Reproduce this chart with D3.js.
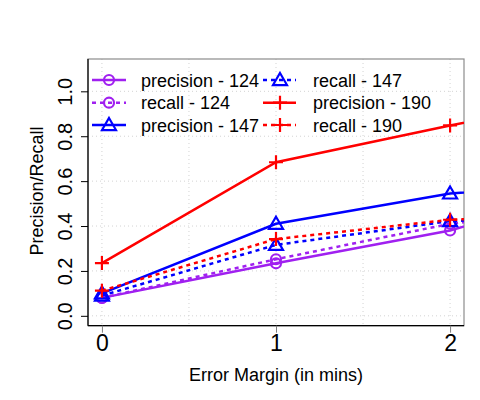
<!DOCTYPE html>
<html><head><meta charset="utf-8">
<script src="https://cdn.jsdelivr.net/npm/d3@7"></script>
<style>body{margin:0;background:#fff}svg{display:block}text{font-family:"Liberation Sans",Arial,sans-serif}</style>
</head><body>
<script>
const margins = [0, 1, 2, 3];
const prec124 = [0.08, 0.234, 0.38, 0.60];
const rec124  = [0.08, 0.252, 0.41, 0.50];
const prec147 = [0.10, 0.41, 0.545, 0.60];
const rec147  = [0.09, 0.316, 0.422, 0.45];
const prec190 = [0.235, 0.684, 0.848, 1.0];
const rec190  = [0.112, 0.342, 0.428, 0.46];
const xTicks = [0, 1, 2];
const yTicks = [0, 0.2, 0.4, 0.6, 0.8, 1.0];
const xGrid = [0, 0.5, 1, 1.5, 2];

const series = [
  {name:"precision - 124", vals:prec124, color:"#a020f0", dash:null, shape:"circle"},
  {name:"recall - 124", vals:rec124, color:"#a020f0", dash:"4,4", shape:"circle"},
  {name:"precision - 147", vals:prec147, color:"#0000ff", dash:null, shape:"triangle"},
  {name:"recall - 147", vals:rec147, color:"#0000ff", dash:"4,4", shape:"triangle"},
  {name:"precision - 190", vals:prec190, color:"#ff0000", dash:null, shape:"plus"},
  {name:"recall - 190", vals:rec190, color:"#ff0000", dash:"4,4", shape:"plus"}
];

const W = 480, H = 400;
const L = 88, R = 464, T = 59, B = 325.7;
const x = d3.scaleLinear().domain([-0.08, 2.08]).range([L, R]);
const y = d3.scaleLinear().domain([-0.044, 1.144]).range([B, T]);

const svg = d3.select("body").append("svg").attr("width", W).attr("height", H);
svg.append("rect").attr("width", W).attr("height", H).attr("fill", "#fff");
svg.append("clipPath").attr("id", "clip").append("rect")
  .attr("x", L).attr("y", T).attr("width", R - L).attr("height", B - T);

// grid
const g = svg.append("g");
g.selectAll(".vg").data(xGrid).join("line")
  .attr("x1", d => x(d)).attr("x2", d => x(d)).attr("y1", T).attr("y2", B)
  .attr("stroke", "#d3d3d3").attr("stroke-width", 1).attr("stroke-dasharray", "1,3");
g.selectAll(".hg").data(yTicks).join("line")
  .attr("y1", d => y(d)).attr("y2", d => y(d)).attr("x1", L).attr("x2", R)
  .attr("stroke", "#d3d3d3").attr("stroke-width", 1).attr("stroke-dasharray", "1,3");

// box
svg.append("rect").attr("x", L).attr("y", T).attr("width", R - L).attr("height", B - T)
  .attr("fill", "none").attr("stroke", "#8c8c8c").attr("stroke-width", 1.2);
svg.append("line").attr("x1", L).attr("x2", L).attr("y1", T).attr("y2", B).attr("stroke", "#000").attr("stroke-width", 1.2);
svg.append("line").attr("x1", L).attr("x2", R).attr("y1", B).attr("y2", B).attr("stroke", "#000").attr("stroke-width", 1.2);

// axes
const xAxis = d3.axisBottom(x).tickValues(xTicks).tickFormat(d3.format("d")).tickSize(7).tickPadding(2);
const xa = svg.append("g").attr("transform", `translate(0,${B})`).call(xAxis);
xa.select(".domain").remove();
xa.selectAll(".tick line").attr("stroke", "#808080");
xa.selectAll("text").attr("font-size", 23).attr("fill", "#000").attr("font-family", "Liberation Sans, Arial, sans-serif");

const yAxis = d3.axisLeft(y).tickValues(yTicks).tickFormat(d3.format(".1f")).tickSize(7);
const ya = svg.append("g").attr("transform", `translate(${L},0)`).call(yAxis);
ya.select(".domain").remove();
ya.selectAll(".tick line").attr("stroke", "#000");
ya.selectAll("text").remove();
ya.selectAll(".tick").append("text")
  .attr("transform", "translate(-16,0) rotate(-90)")
  .attr("text-anchor", "middle").attr("font-size", 20).attr("fill", "#000")
  .attr("font-family", "Liberation Sans, Arial, sans-serif")
  .text(d => d3.format(".1f")(d));

// titles
svg.append("text").attr("x", x(1)).attr("y", 381).attr("text-anchor", "middle")
  .attr("font-size", 18).text("Error Margin (in mins)");
svg.append("text").attr("transform", "translate(43,191) rotate(-90)").attr("text-anchor", "middle")
  .attr("font-size", 18).text("Precision/Recall");

// markers
function marker(sel, shape, color, cx, cy) {
  if (shape === "circle") {
    sel.append("circle").attr("cx", cx).attr("cy", cy).attr("r", 5)
      .attr("fill", "none").attr("stroke", color).attr("stroke-width", 2.2);
  } else if (shape === "triangle") {
    const s = 7;
    sel.append("path").attr("d", `M${cx},${cy - s}L${cx + s},${cy + s * 0.72}L${cx - s},${cy + s * 0.72}Z`)
      .attr("fill", "none").attr("stroke", color).attr("stroke-width", 2.2);
  } else {
    const s = 7;
    sel.append("path").attr("d", `M${cx - s},${cy}H${cx + s}M${cx},${cy - s}V${cy + s}`)
      .attr("fill", "none").attr("stroke", color).attr("stroke-width", 2.2);
  }
}

const line = d3.line().x((d, i) => x(margins[i])).y(d => y(d));
const plot = svg.append("g").attr("clip-path", "url(#clip)");
series.forEach(s => {
  plot.append("path").datum(s.vals).attr("d", line)
    .attr("fill", "none").attr("stroke", s.color).attr("stroke-width", 2.5)
    .attr("stroke-dasharray", s.dash);
  s.vals.forEach((v, i) => marker(plot, s.shape, s.color, x(margins[i]), y(v)));
});

// legend
const legRows = [80, 102.7, 125];
const legCols = [{l0: 92, l1: 126, m: 109, t: 141}, {l0: 263, l1: 296, m: 280, t: 313}];
const lg = svg.append("g");
series.forEach((s, i) => {
  const c = legCols[Math.floor(i / 3)], ry = legRows[i % 3];
  lg.append("line").attr("x1", c.l0).attr("x2", c.l1).attr("y1", ry).attr("y2", ry)
    .attr("stroke", s.color).attr("stroke-width", 2.5).attr("stroke-dasharray", s.dash);
  marker(lg, s.shape, s.color, c.m, ry);
  lg.append("text").attr("x", c.t).attr("y", ry + 6.5).attr("font-size", 18).text(s.name);
});
</script>
</body></html>
